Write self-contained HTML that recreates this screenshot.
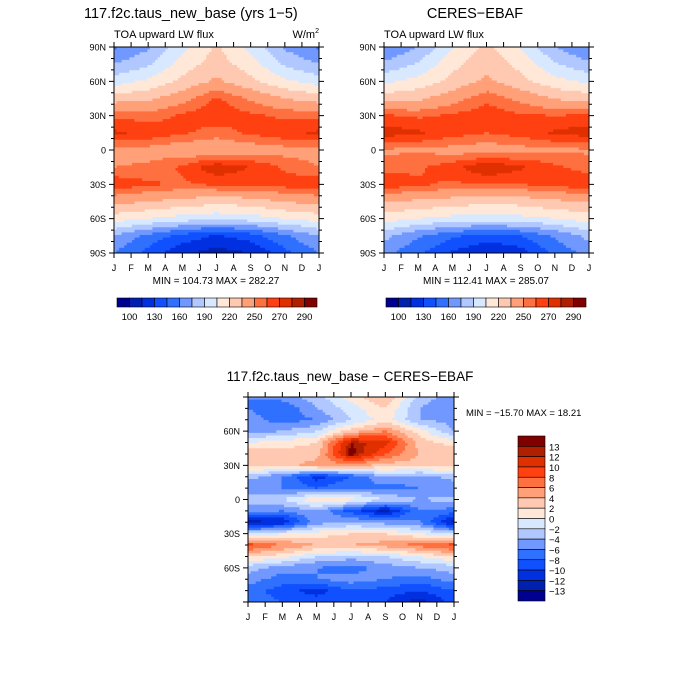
<!DOCTYPE html>
<html><head><meta charset="utf-8"><style>
body{margin:0;background:#fff;width:700px;height:700px;overflow:hidden}
svg{display:block}
text{font-family:"Liberation Sans",sans-serif;fill:#000}
</style></head><body>
<svg id="s" width="700" height="700" xmlns="http://www.w3.org/2000/svg"></svg>
<script>
const colors=["#000090","#0020b0","#0030e0","#1050ff","#3070ff","#7098ff","#b0c8ff","#d8e8ff","#ffe8d8","#ffc8b0","#ffa078","#ff7040","#ff4010","#e03000","#b02000","#800000"];
const levelsTop=[100,115,130,145,160,175,190,205,220,235,250,260,270,280,290];
const levelsDiff=[-13,-12,-10,-8,-6,-4,-2,0,2,4,6,8,10,12,13];
const months=["J","F","M","A","M","J","J","A","S","O","N","D","J"];
const topBarLabels=["100","130","160","190","220","250","270","290"];
const diffBarLabels=["13","12","10","8","6","4","2","0","\u22122","\u22124","\u22126","\u22128","\u221210","\u221212","\u221213"];
// rows 90N..90S every 15 deg, columns Jan,Mar,May,Jul,Sep,Nov,Jan
const modelField=[
[158,172,200,222,200,172,158],
[175,188,212,228,212,188,175],
[198,208,224,238,224,208,198],
[228,232,245,262,248,235,228],
[258,255,262,268,262,258,258],
[272,268,262,255,262,268,272],
[245,245,240,238,242,245,245],
[250,252,262,278,270,258,250],
[268,262,258,262,262,265,268],
[240,235,230,225,228,236,240],
[212,205,198,195,198,205,212],
[175,155,140,128,138,158,175],
[160,140,118,108,115,140,160]];
const obsField=[
[160,175,204,225,204,175,160],
[178,192,215,230,215,192,178],
[202,210,225,238,225,210,202],
[228,232,244,258,246,234,228],
[262,258,262,266,262,260,262],
[276,272,265,260,265,272,276],
[248,248,245,242,245,248,248],
[256,258,266,280,272,262,256],
[268,262,258,260,260,264,268],
[236,232,228,224,226,232,236],
[212,205,200,198,200,205,212],
[180,162,148,138,145,162,180],
[165,148,128,115,122,150,165]];
// rows 90N..90S every 10 deg
const diffField=[
[-6,-5,-3,1,4,-3,-5],
[-6,-8,-4,-1,2,-4,-6],
[-5,-7,-6,-2,1,-4,-5],
[-5,-4,-2,3,6,1,-4],
[0,1,2,13,11,3,1],
[4,3,3,14,8,4,4],
[3,3,5,5,3,3,3],
[-3,-6,-11,-8,-4,-5,-3],
[-6,-6,-8,-6,-7,-6,-6],
[-3,-2,2,1,-2,-4,-3],
[-5,-6,-4,-9,-13,-6,-7],
[-13,-12,-5,-4,-5,-6,-13],
[-2,0,1,2,2,0,-2],
[9,6,4,4,5,7,9],
[2,1,-2,-3,-2,0,2],
[-3,-5,-6,-7,-5,-4,-3],
[-5,-7,-6,-5,-6,-7,-5],
[-7,-9,-11,-8,-9,-10,-8],
[-7,-8,-9,-8,-10,-13,-9]];

const NS="http://www.w3.org/2000/svg";
const svg=document.getElementById('s');
function mk(tag,attrs,parent){const e=document.createElementNS(NS,tag);for(const k in attrs)e.setAttribute(k,attrs[k]);(parent||svg).appendChild(e);return e;}
function txt(x,y,s,size,anchor,name,parent){const t=mk('text',{x:x,y:y,'font-size':size,'text-anchor':anchor||'start'},parent);t.textContent=s;

return t;}
function sample(field,m,lat){
 const nr=field.length,nc=field[0].length;
 const r=(90-lat)/180*(nr-1), c=m/12*(nc-1);
 const r0=Math.min(nr-2,Math.floor(r)), c0=Math.min(nc-2,Math.floor(c));
 const fr=r-r0, fc=c-c0;
 const a=field[r0][c0],b=field[r0][c0+1],cc=field[r0+1][c0],d=field[r0+1][c0+1];
 return a*(1-fr)*(1-fc)+b*(1-fr)*fc+cc*fr*(1-fc)+d*fr*fc;}
function bin(v,levels){let i=0;while(i<levels.length&&v>=levels[i])i++;return i;}
function panel(name,x0,y0,w,h,field,levels,latLabels){
 const g=mk('g',{});
 
 
 const N=80;const cw=w/N,ch=h/N;
 for(let j=0;j<N;j++){
  const lat=90-(j+0.5)/N*180;let start=0,prev=-1;
  for(let i=0;i<=N;i++){
   const k=i<N?bin(sample(field,(i+0.5)/N*12,lat),levels):-2;
   if(k!==prev){
    if(prev>=0){const r=mk('rect',{x:(x0+start*cw).toFixed(2),y:(y0+j*ch).toFixed(2),width:((i-start)*cw+0.4).toFixed(2),height:(ch+0.4).toFixed(2),fill:colors[prev]},g);
     
     }
    start=i;prev=k;}
  }
 }
 const f=mk('rect',{x:x0,y:y0,width:w,height:h,fill:'none',stroke:'#000','stroke-width':1},g);
 
 
 let p='';
 for(let i=0;i<=12;i++){const x=x0+i*w/12;p+=`M${x} ${y0}v-5M${x} ${y0+h}v5`;}
 for(let l=0;l<=18;l++){const y=y0+l*h/18,len=l%3===0?5:3;p+=`M${x0} ${y}h-${len}M${x0+w} ${y}h${len}`;}
 const t=mk('path',{d:p,stroke:'#000','stroke-width':1,fill:'none'},g);
 
 
 months.forEach((m,i)=>txt(x0+i*w/12,y0+h+18,m,9,'middle','x-tick-label',g));
 latLabels.forEach(([lab,lat])=>txt(x0-8,y0+(90-lat)/180*h+3.5,lab,9,'end','y-tick-label',g));
}
const latTop=[["90N",90],["60N",60],["30N",30],["0",0],["30S",-30],["60S",-60],["90S",-90]];
const latBot=[["60N",60],["30N",30],["0",0],["30S",-30],["60S",-60]];
panel('model-panel',114,47,205,206,modelField,levelsTop,latTop);
panel('obs-panel',384,47,205,206,obsField,levelsTop,latTop);
panel('diff-panel',248,397,206,205,diffField,levelsDiff,latBot);

txt(84,18,"117.f2c.taus_new_base (yrs 1\u22125)",14.5,'start','model-title');
txt(475,18,"CERES\u2212EBAF",14.5,'middle','obs-title');
txt(114,38,"TOA upward LW flux",11,'start','model-subtitle');
txt(319,38,"W/m",11,'end','units-label').innerHTML='W/m<tspan font-size="7" dy="-5">2</tspan>';
txt(384,38,"TOA upward LW flux",11,'start','obs-subtitle');
txt(216,284,"MIN = 104.73 MAX = 282.27",10,'middle','model-minmax');
txt(486,284,"MIN = 112.41 MAX = 285.07",10,'middle','obs-minmax');
txt(350,381,"117.f2c.taus_new_base \u2212 CERES\u2212EBAF",13.5,'middle','diff-title');
txt(466,416,"MIN = \u221215.70 MAX =  18.21",9.5,'start','diff-minmax');

function hbar(name,x0,y0){
 const g=mk('g',{});
 
 
 const bw=200/16;
 colors.forEach((c,i)=>{const r=mk('rect',{x:x0+i*bw,y:y0,width:bw,height:9,fill:c,stroke:'#000','stroke-width':0.6},g);
  
  });
 topBarLabels.forEach((l,i)=>txt(x0+(1+2*i)*bw,y0+22,l,9.5,'middle','colorbar-label',g));
}
hbar('model-colorbar',117,298);
hbar('obs-colorbar',386,298);
(function(){
 const g=mk('g',{});
 
 
 const x0=518,y0=436,bh=165/16;
 colors.slice().reverse().forEach((c,i)=>{const r=mk('rect',{x:x0,y:y0+i*bh,width:27,height:bh,fill:c,stroke:'#000','stroke-width':0.6},g);
  
  });
 diffBarLabels.forEach((l,i)=>txt(x0+31,y0+(i+1)*bh+4,l,9.5,'start','colorbar-label',g));
})();
</script>
</body></html>
